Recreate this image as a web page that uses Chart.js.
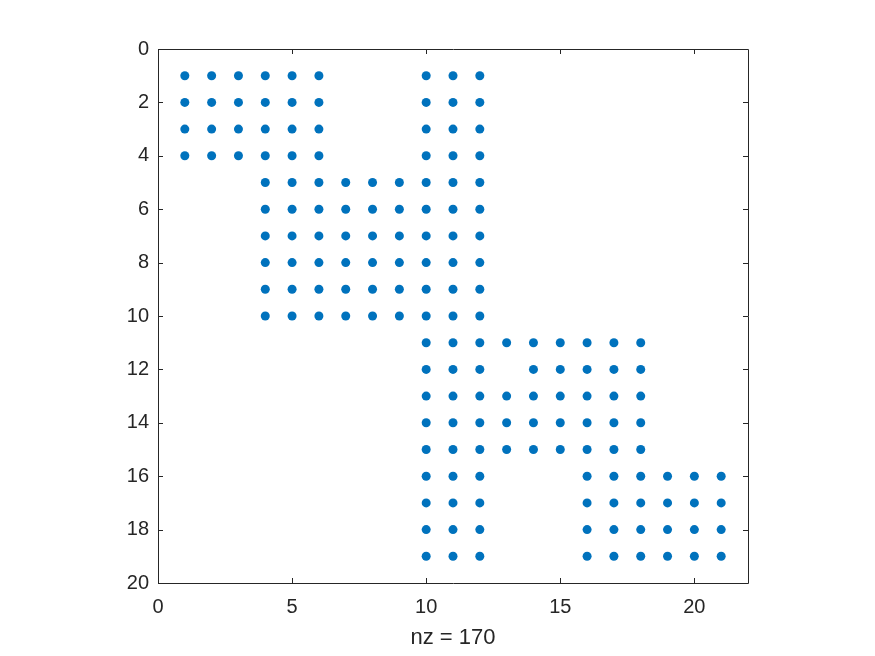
<!DOCTYPE html>
<html>
<head>
<meta charset="utf-8">
<script src="https://cdn.jsdelivr.net/npm/chart.js@4/dist/chart.umd.min.js"></script>
<style>
  html, body { margin: 0; padding: 0; background: #fff; }
  canvas { display: block; }
</style>
</head>
<body>
<canvas id="spy" width="875" height="656"></canvas>
<script>
// grafico tipo spy: posiciones de los elementos no nulos de la matriz
const rowIndex = [1, 2, 3, 4, 5, 6, 7, 8, 9, 10, 11, 12, 13, 14, 15, 16, 17, 18, 19];
const nonZeroCols = [
  [1, 2, 3, 4, 5, 6, 10, 11, 12],
  [1, 2, 3, 4, 5, 6, 10, 11, 12],
  [1, 2, 3, 4, 5, 6, 10, 11, 12],
  [1, 2, 3, 4, 5, 6, 10, 11, 12],
  [4, 5, 6, 7, 8, 9, 10, 11, 12],
  [4, 5, 6, 7, 8, 9, 10, 11, 12],
  [4, 5, 6, 7, 8, 9, 10, 11, 12],
  [4, 5, 6, 7, 8, 9, 10, 11, 12],
  [4, 5, 6, 7, 8, 9, 10, 11, 12],
  [4, 5, 6, 7, 8, 9, 10, 11, 12],
  [10, 11, 12, 13, 14, 15, 16, 17, 18],
  [10, 11, 12, 14, 15, 16, 17, 18],
  [10, 11, 12, 13, 14, 15, 16, 17, 18],
  [10, 11, 12, 13, 14, 15, 16, 17, 18],
  [10, 11, 12, 13, 14, 15, 16, 17, 18],
  [10, 11, 12, 16, 17, 18, 19, 20, 21],
  [10, 11, 12, 16, 17, 18, 19, 20, 21],
  [10, 11, 12, 16, 17, 18, 19, 20, 21],
  [10, 11, 12, 16, 17, 18, 19, 20, 21]
];
const xTicks = [0, 5, 10, 15, 20];
const yTicks = [0, 2, 4, 6, 8, 10, 12, 14, 16, 18, 20];

const points = [];
rowIndex.forEach((r, i) => {
  nonZeroCols[i].forEach(c => points.push({ x: c, y: r }));
});

const axisColor = '#262626';
const fontFamily = '"Liberation Sans", Arial, Helvetica, sans-serif';

// caja del eje con marcas hacia adentro en los cuatro lados (estilo MATLAB)
const boxTicks = {
  id: 'boxTicks',
  afterDraw(chart) {
    const { ctx, chartArea: a, scales } = chart;
    const len = 5;
    ctx.save();
    ctx.strokeStyle = axisColor;
    ctx.lineWidth = 1;
    ctx.beginPath();
    ctx.rect(Math.round(a.left) + 0.5, Math.round(a.top) + 0.5,
      Math.round(a.right - a.left), Math.round(a.bottom - a.top));
    xTicks.forEach(v => {
      const px = Math.round(scales.x.getPixelForValue(v)) + 0.5;
      ctx.moveTo(px, a.bottom);
      ctx.lineTo(px, a.bottom - len);
      ctx.moveTo(px, a.top);
      ctx.lineTo(px, a.top + len);
    });
    yTicks.forEach(v => {
      const py = Math.round(scales.y.getPixelForValue(v)) + 0.5;
      ctx.moveTo(a.left, py);
      ctx.lineTo(a.left + len, py);
      ctx.moveTo(a.right, py);
      ctx.lineTo(a.right - len, py);
    });
    ctx.stroke();
    ctx.restore();
  }
};

new Chart(document.getElementById('spy'), {
  type: 'scatter',
  data: {
    datasets: [{
      data: points,
      backgroundColor: '#0072BD',
      borderWidth: 0,
      pointRadius: 4.5,
      pointHoverRadius: 4.5
    }]
  },
  options: {
    responsive: false,
    animation: false,
    layout: { padding: { top: 49, right: 127, left: 0, bottom: 0 } },
    plugins: {
      legend: { display: false },
      tooltip: { enabled: false }
    },
    scales: {
      x: {
        type: 'linear',
        position: 'bottom',
        min: 0,
        max: 22,
        afterBuildTicks: s => { s.ticks = xTicks.map(v => ({ value: v })); },
        afterFit: s => { s.height = 73; },
        grid: { display: false, drawTicks: false },
        border: { display: false },
        ticks: { color: axisColor, padding: 12, maxRotation: 0, font: { family: fontFamily, size: 20 } },
        title: {
          display: true,
          text: 'nz = 170',
          color: axisColor,
          padding: { top: 0, bottom: 5 },
          font: { family: fontFamily, size: 22 }
        }
      },
      y: {
        type: 'linear',
        reverse: true,
        min: 0,
        max: 20,
        afterBuildTicks: s => { s.ticks = yTicks.map(v => ({ value: v })); },
        afterFit: s => { s.width = 158; },
        grid: { display: false, drawTicks: false },
        border: { display: false },
        ticks: { color: axisColor, padding: 9, font: { family: fontFamily, size: 20 } }
      }
    }
  },
  plugins: [boxTicks]
});
</script>
</body>
</html>
